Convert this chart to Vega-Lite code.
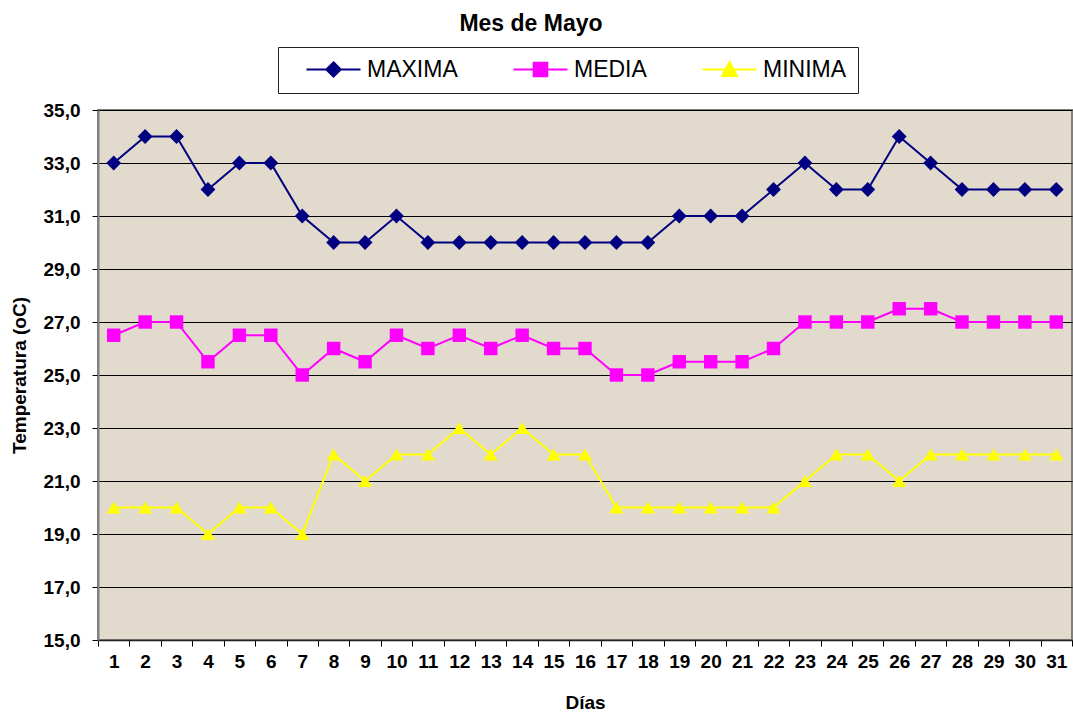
{
  "$schema": "https://vega.github.io/schema/vega-lite/v6.json",
  "autosize": "none",
  "width": 974,
  "height": 530,
  "padding": {"left": 98, "top": 110, "right": 1, "bottom": 78},
  "background": "white",
  "title": {"text": "Mes de Mayo", "font": "Liberation Sans", "fontSize": 23, "fontWeight": "bold", "color": "black", "anchor": "middle", "frame": "group", "dx": -54, "offset": 11},
  "config": {
    "view": {"fill": "#E2DACD", "stroke": "#808080", "strokeWidth": 2},
    "axis": {"labelFont": "Liberation Sans", "titleFont": "Liberation Sans", "labelColor": "black", "titleColor": "black", "labelFontWeight": "bold", "titleFontWeight": "bold", "labelFontSize": 19, "titleFontSize": 19, "tickColor": "black", "tickSize": 6}
  },
  "data": {"values": [
    {"dia": 1, "serie": "MAXIMA", "temp": 33}, {"dia": 2, "serie": "MAXIMA", "temp": 34}, {"dia": 3, "serie": "MAXIMA", "temp": 34}, {"dia": 4, "serie": "MAXIMA", "temp": 32}, {"dia": 5, "serie": "MAXIMA", "temp": 33}, {"dia": 6, "serie": "MAXIMA", "temp": 33}, {"dia": 7, "serie": "MAXIMA", "temp": 31}, {"dia": 8, "serie": "MAXIMA", "temp": 30}, {"dia": 9, "serie": "MAXIMA", "temp": 30}, {"dia": 10, "serie": "MAXIMA", "temp": 31}, {"dia": 11, "serie": "MAXIMA", "temp": 30}, {"dia": 12, "serie": "MAXIMA", "temp": 30}, {"dia": 13, "serie": "MAXIMA", "temp": 30}, {"dia": 14, "serie": "MAXIMA", "temp": 30}, {"dia": 15, "serie": "MAXIMA", "temp": 30}, {"dia": 16, "serie": "MAXIMA", "temp": 30}, {"dia": 17, "serie": "MAXIMA", "temp": 30}, {"dia": 18, "serie": "MAXIMA", "temp": 30}, {"dia": 19, "serie": "MAXIMA", "temp": 31}, {"dia": 20, "serie": "MAXIMA", "temp": 31}, {"dia": 21, "serie": "MAXIMA", "temp": 31}, {"dia": 22, "serie": "MAXIMA", "temp": 32}, {"dia": 23, "serie": "MAXIMA", "temp": 33}, {"dia": 24, "serie": "MAXIMA", "temp": 32}, {"dia": 25, "serie": "MAXIMA", "temp": 32}, {"dia": 26, "serie": "MAXIMA", "temp": 34}, {"dia": 27, "serie": "MAXIMA", "temp": 33}, {"dia": 28, "serie": "MAXIMA", "temp": 32}, {"dia": 29, "serie": "MAXIMA", "temp": 32}, {"dia": 30, "serie": "MAXIMA", "temp": 32}, {"dia": 31, "serie": "MAXIMA", "temp": 32},
    {"dia": 1, "serie": "MEDIA", "temp": 26.5}, {"dia": 2, "serie": "MEDIA", "temp": 27}, {"dia": 3, "serie": "MEDIA", "temp": 27}, {"dia": 4, "serie": "MEDIA", "temp": 25.5}, {"dia": 5, "serie": "MEDIA", "temp": 26.5}, {"dia": 6, "serie": "MEDIA", "temp": 26.5}, {"dia": 7, "serie": "MEDIA", "temp": 25}, {"dia": 8, "serie": "MEDIA", "temp": 26}, {"dia": 9, "serie": "MEDIA", "temp": 25.5}, {"dia": 10, "serie": "MEDIA", "temp": 26.5}, {"dia": 11, "serie": "MEDIA", "temp": 26}, {"dia": 12, "serie": "MEDIA", "temp": 26.5}, {"dia": 13, "serie": "MEDIA", "temp": 26}, {"dia": 14, "serie": "MEDIA", "temp": 26.5}, {"dia": 15, "serie": "MEDIA", "temp": 26}, {"dia": 16, "serie": "MEDIA", "temp": 26}, {"dia": 17, "serie": "MEDIA", "temp": 25}, {"dia": 18, "serie": "MEDIA", "temp": 25}, {"dia": 19, "serie": "MEDIA", "temp": 25.5}, {"dia": 20, "serie": "MEDIA", "temp": 25.5}, {"dia": 21, "serie": "MEDIA", "temp": 25.5}, {"dia": 22, "serie": "MEDIA", "temp": 26}, {"dia": 23, "serie": "MEDIA", "temp": 27}, {"dia": 24, "serie": "MEDIA", "temp": 27}, {"dia": 25, "serie": "MEDIA", "temp": 27}, {"dia": 26, "serie": "MEDIA", "temp": 27.5}, {"dia": 27, "serie": "MEDIA", "temp": 27.5}, {"dia": 28, "serie": "MEDIA", "temp": 27}, {"dia": 29, "serie": "MEDIA", "temp": 27}, {"dia": 30, "serie": "MEDIA", "temp": 27}, {"dia": 31, "serie": "MEDIA", "temp": 27},
    {"dia": 1, "serie": "MINIMA", "temp": 20}, {"dia": 2, "serie": "MINIMA", "temp": 20}, {"dia": 3, "serie": "MINIMA", "temp": 20}, {"dia": 4, "serie": "MINIMA", "temp": 19}, {"dia": 5, "serie": "MINIMA", "temp": 20}, {"dia": 6, "serie": "MINIMA", "temp": 20}, {"dia": 7, "serie": "MINIMA", "temp": 19}, {"dia": 8, "serie": "MINIMA", "temp": 22}, {"dia": 9, "serie": "MINIMA", "temp": 21}, {"dia": 10, "serie": "MINIMA", "temp": 22}, {"dia": 11, "serie": "MINIMA", "temp": 22}, {"dia": 12, "serie": "MINIMA", "temp": 23}, {"dia": 13, "serie": "MINIMA", "temp": 22}, {"dia": 14, "serie": "MINIMA", "temp": 23}, {"dia": 15, "serie": "MINIMA", "temp": 22}, {"dia": 16, "serie": "MINIMA", "temp": 22}, {"dia": 17, "serie": "MINIMA", "temp": 20}, {"dia": 18, "serie": "MINIMA", "temp": 20}, {"dia": 19, "serie": "MINIMA", "temp": 20}, {"dia": 20, "serie": "MINIMA", "temp": 20}, {"dia": 21, "serie": "MINIMA", "temp": 20}, {"dia": 22, "serie": "MINIMA", "temp": 20}, {"dia": 23, "serie": "MINIMA", "temp": 21}, {"dia": 24, "serie": "MINIMA", "temp": 22}, {"dia": 25, "serie": "MINIMA", "temp": 22}, {"dia": 26, "serie": "MINIMA", "temp": 21}, {"dia": 27, "serie": "MINIMA", "temp": 22}, {"dia": 28, "serie": "MINIMA", "temp": 22}, {"dia": 29, "serie": "MINIMA", "temp": 22}, {"dia": 30, "serie": "MINIMA", "temp": 22}, {"dia": 31, "serie": "MINIMA", "temp": 22}
  ]},
  "encoding": {
    "x": {"field": "dia", "type": "ordinal", "title": "Días",
      "scale": {"type": "band", "paddingInner": 0, "paddingOuter": 0},
      "axis": {"labelAngle": 0, "tickBand": "extent", "grid": false, "domainColor": "#222222", "domainWidth": 1.5, "labelPadding": 6, "titlePadding": 22}},
    "y": {"field": "temp", "type": "quantitative", "title": "Temperatura (oC)",
      "scale": {"domain": [15, 35], "nice": false, "zero": false},
      "axis": {"values": [15, 17, 19, 21, 23, 25, 27, 29, 31, 33, 35], "labelExpr": "replace(format(datum.value, '.1f'), '.', ',')", "grid": true, "gridColor": "black", "gridWidth": 1, "gridOpacity": 1, "domainColor": "#808080", "domainWidth": 2, "labelPadding": 12, "titlePadding": 14}}
  },
  "layer": [
    {"mark": {"type": "point", "filled": true, "opacity": 0, "strokeWidth": 2},
      "encoding": {
        "fill": {"field": "serie", "type": "nominal", "scale": {"domain": ["MAXIMA", "MEDIA", "MINIMA"], "range": ["#000080", "#FF00FF", "#FFFF00"]},
          "legend": {"title": null, "orient": "none", "legendX": 180, "legendY": -63, "direction": "horizontal", "columns": 3, "gridAlign": "none", "columnPadding": 38, "padding": 11, "strokeColor": "#222222", "fillColor": "white", "labelFont": "Liberation Sans", "labelFontSize": 23, "labelColor": "black", "labelOffset": 55, "symbolSize": 400, "symbolStrokeWidth": 2, "symbolOpacity": 1}},
        "stroke": {"field": "serie", "type": "nominal", "scale": {"domain": ["MAXIMA", "MEDIA", "MINIMA"], "range": ["#000080", "#FF00FF", "#FFFF00"]},
          "legend": {"title": null, "orient": "none", "legendX": 180, "legendY": -63, "direction": "horizontal", "columns": 3, "gridAlign": "none", "columnPadding": 38, "padding": 11, "strokeColor": "#222222", "fillColor": "white", "labelFont": "Liberation Sans", "labelFontSize": 23, "labelColor": "black", "labelOffset": 55, "symbolSize": 400, "symbolStrokeWidth": 2, "symbolOpacity": 1}},
        "shape": {"field": "serie", "type": "nominal", "scale": {"domain": ["MAXIMA", "MEDIA", "MINIMA"], "range": ["M0.6,0L6,0M3.3,-0.72L4.02,0L3.3,0.72L2.58,0Z", "M0.6,0L6,0M2.62,-0.68L3.98,-0.68L3.98,0.68L2.62,0.68Z", "M0.6,0L6,0M3.3,-0.75L4.05,0.65L2.55,0.65Z"]},
          "legend": {"title": null, "orient": "none", "legendX": 180, "legendY": -63, "direction": "horizontal", "columns": 3, "gridAlign": "none", "columnPadding": 38, "padding": 11, "strokeColor": "#222222", "fillColor": "white", "labelFont": "Liberation Sans", "labelFontSize": 23, "labelColor": "black", "labelOffset": 55, "symbolSize": 400, "symbolStrokeWidth": 2, "symbolOpacity": 1}}
      }},
    {"mark": {"type": "line", "strokeWidth": 2},
      "encoding": {"color": {"field": "serie", "type": "nominal", "scale": {"domain": ["MAXIMA", "MEDIA", "MINIMA"], "range": ["#000080", "#FF00FF", "#FFFF00"]}, "legend": null}}},
    {"transform": [{"filter": "datum.serie === 'MAXIMA'"}],
      "mark": {"type": "point", "shape": "diamond", "filled": true, "opacity": 1, "size": 220, "color": "#000080"}},
    {"transform": [{"filter": "datum.serie === 'MEDIA'"}],
      "mark": {"type": "point", "shape": "square", "filled": true, "opacity": 1, "size": 180, "color": "#FF00FF"}},
    {"transform": [{"filter": "datum.serie === 'MINIMA'"}],
      "mark": {"type": "point", "shape": "triangle-up", "filled": true, "opacity": 1, "size": 200, "color": "#FFFF00"}}
  ]
}
